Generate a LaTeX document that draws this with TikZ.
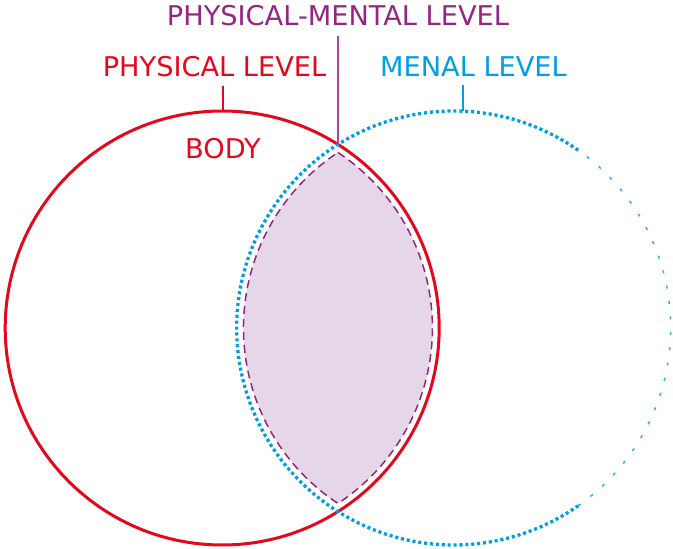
\documentclass[tikz,border=0pt]{standalone}
\usepackage{fontspec}
\setmainfont{DejaVu Sans}
\usetikzlibrary{calc}
\definecolor{physred}{RGB}{228,8,30}
\definecolor{mentblue}{RGB}{0,159,227}
\definecolor{pmpurple}{RGB}{150,36,132}
\definecolor{pmline}{RGB}{168,70,160}
\definecolor{lensfill}{RGB}{229,214,232}
\tikzset{
  lbl/.style={anchor=base, inner sep=0pt, font=\fontsize{27.2}{30}\selectfont},
  tick/.style={line width=1.6pt},
  thickdots/.style={mentblue, line width=3.3pt, dash pattern=on 3.1pt off 2.8pt},
  thindash/.style={mentblue!80, line width=1.6pt, dash pattern=on 3pt off 12.5pt},
  lens/.style={fill=lensfill, draw=pmpurple, line width=1.5pt, dash pattern=on 8pt off 5pt}
}
\begin{document}
\begin{tikzpicture}[x=1pt,y=1pt]
\useasboundingbox (0,0) rectangle (673,549);
% centres
\coordinate (rc) at (222.2,221);
\coordinate (bc) at (453.7,221);
% lens
\draw[lens] (337.95,396.5) arc[start angle=56.6, end angle=-56.6, radius=210.2pt]
   arc[start angle=236.6, end angle=123.4, radius=210.2pt] -- cycle;
% red circle
\draw[physred, line width=3pt] (rc) circle[radius=217pt];
% blue circle
\draw[thickdots] ($(bc)+(55:217pt)$) arc[start angle=55, end angle=305, radius=217pt];
\draw[thindash] ($(bc)+(-55:217pt)$) arc[start angle=-55, end angle=55, radius=217pt];
% labels
\node[lbl, text=pmpurple] (pm) at (338,523) {PHYSICAL-MENTAL LEVEL};
\node[lbl, text=physred] (pl) at (214.5,472.5) {PHYSICAL LEVEL};
\node[lbl, text=mentblue] (ml) at (473.5,472.5) {MENAL LEVEL};
\node[lbl, text=physred] (body) at (223,390) {BODY};
% ticks
\coordinate (pmtop) at (338,513);
\coordinate (pmbot) at (338,405);
\coordinate (pltop) at (223,463);
\coordinate (plbot) at (223,438);
\coordinate (mltop) at (463,464);
\coordinate (mlbot) at (463,437.5);
\draw[tick, pmline] (pmtop) -- (pmbot);
\draw[tick, physred] (pltop) -- (plbot);
\draw[tick, mentblue] (mltop) -- (mlbot);
\end{tikzpicture}
\end{document}
